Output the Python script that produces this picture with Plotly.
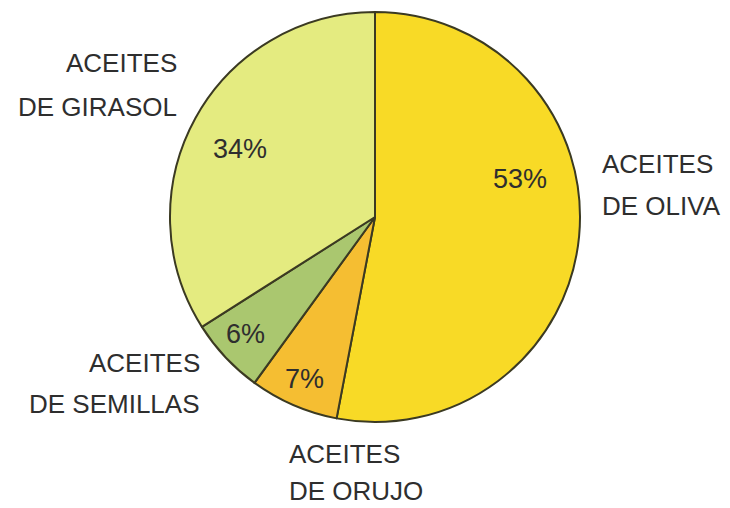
import math
import plotly.graph_objects as go

categories = ["ACEITES DE OLIVA", "ACEITES DE ORUJO", "ACEITES DE SEMILLAS", "ACEITES DE GIRASOL"]
values = [53, 7, 6, 34]
pct_labels = ["53%", "7%", "6%", "34%"]
label_line1 = ["ACEITES", "ACEITES", "ACEITES", "ACEITES"]
label_line2 = ["DE OLIVA", "DE ORUJO", "DE SEMILLAS", "DE GIRASOL"]
colors = ["#f8da26", "#f5be32", "#aac76f", "#e4eb80"]

# page has an 8px body margin; figure coordinates below are page - 8
W, H = 722, 500
OFF = 8
FONT = "Liberation Sans, Arial, sans-serif"
TXT = "#2e2e2e"

# pie geometry (page pixels)
CX, CY, R = 375, 217, 205

fig = go.Figure()
fig.add_trace(go.Pie(
    labels=categories, values=values,
    textinfo="none",
    sort=False, direction="clockwise", rotation=0,
    marker=dict(colors=colors, line=dict(color="#3b3a22", width=2)),
    domain=dict(x=[(CX - R - OFF) / W, (CX + R - OFF) / W],
                y=[1 - (CY + R - OFF) / H, 1 - (CY - R - OFF) / H]),
    showlegend=False, hoverinfo="label+percent",
))

def to_paper(px, py):
    return (px - OFF) / W, 1 - (py - OFF) / H

# percentage labels, placed at each slice's angle (from the data)
pct_style = [(0.73, -20), (0.86, 0), (0.85, 1), (0.74, -2)]  # radius fraction, angle shift
total = sum(values)
cum = 0
for v, t, (rf, dang) in zip(values, pct_labels, pct_style):
    mid = (cum + v / 2) / total * 360 + dang
    cum += v
    a = math.radians(mid)
    px = CX + rf * R * math.sin(a)
    py = CY - rf * R * math.cos(a)
    x, y = to_paper(px, py)
    fig.add_annotation(text=t, xref="paper", yref="paper", x=x, y=y,
                       xanchor="center", yanchor="middle", showarrow=False,
                       font=dict(family=FONT, size=27, color=TXT))

# outside category labels: (anchor x, baseline line1, baseline line2, align) in page px
label_pos = [(600, 173, 215, "left"), (287, 463, 500, "left"),
             (202, 372, 413, "right"), (179, 72, 116, "right")]
for l1, l2, (x0, b1, b2, al) in zip(label_line1, label_line2, label_pos):
    for txt, base in ((l1, b1), (l2, b2)):
        x, y = to_paper(x0, base - 9)
        fig.add_annotation(text=txt, xref="paper", yref="paper", x=x, y=y,
                           xanchor=al, yanchor="middle", showarrow=False,
                           font=dict(family=FONT, size=26, color=TXT))

fig.update_layout(
    width=W, height=H, margin=dict(l=0, r=0, t=0, b=0),
    paper_bgcolor="white", plot_bgcolor="white",
)
fig.write_html("out.html")
